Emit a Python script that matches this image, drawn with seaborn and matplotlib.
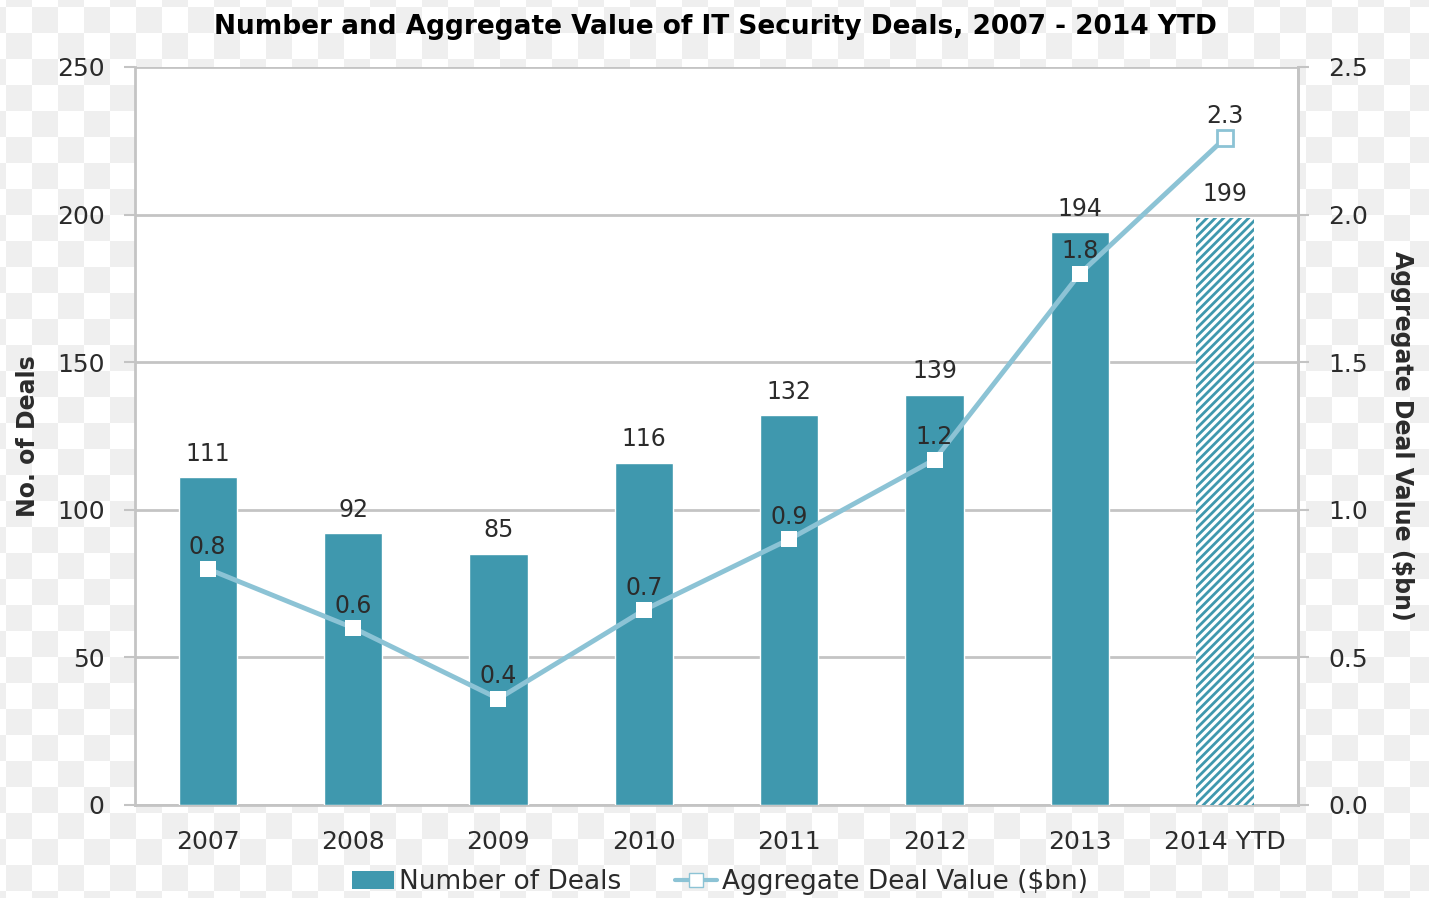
import numpy as np
import seaborn as sns
import matplotlib.pyplot as plt
from matplotlib.colors import ListedColormap
from matplotlib.lines import Line2D
from matplotlib.patches import Patch

# chart data
years = ["2007", "2008", "2009", "2010", "2011", "2012", "2013", "2014 YTD"]
num_deals = [111, 92, 85, 116, 132, 139, 194, 199]
deal_value = [0.80, 0.60, 0.36, 0.66, 0.90, 1.17, 1.80, 2.26]
value_labels = ["0.8", "0.6", "0.4", "0.7", "0.9", "1.2", "1.8", "2.3"]

bar_color = "#3f98ae"
line_color = "#8cc3d5"
grid_color = "#c4c4c4"
text_color = "#2b2b2b"

sns.set_style("white")
sns.set_context("notebook")
plt.rcParams["font.family"] = ["DejaVu Sans"]
plt.rcParams["hatch.color"] = bar_color
plt.rcParams["hatch.linewidth"] = 2.0

W, H = 1429, 898
fig = plt.figure(figsize=(W / 100, H / 100), dpi=100)

# faint checkerboard behind the chart (transparency pattern of the original)
bg = fig.add_axes([0, 0, 1, 1], zorder=-10)
cell = 26
ny, nx = H // cell + 3, W // cell + 3
checker = (np.add.outer(np.arange(ny), np.arange(nx)) % 2).astype(float)
x0, y0 = 6 - cell, 7 - cell
bg.imshow(checker, cmap=ListedColormap(["#ffffff", "#efefef"]),
          extent=(x0, x0 + nx * cell, y0 + ny * cell, y0),
          origin="upper", interpolation="nearest", aspect="auto")
bg.set_xlim(0, W)
bg.set_ylim(H, 0)
bg.axis("off")

ax = fig.add_axes([135 / W, 1 - 805 / H, (1298 - 135) / W, (805 - 67) / H])
ax.set_facecolor("white")

sns.barplot(x=years, y=num_deals, color=bar_color, width=0.4, saturation=1, ax=ax, zorder=3)
last = ax.patches[-1]
last.set_facecolor("white")
last.set_edgecolor(bar_color)
last.set_linewidth(0)
last.set_hatch("////")

for i, v in enumerate(num_deals):
    ax.text(i, v + 4, str(v), ha="center", va="bottom", fontsize=17, color=text_color, zorder=6)

ax.set_ylim(0, 250)
ax.set_xlim(-0.5, len(years) - 0.5)
ax.set_yticks(range(0, 251, 50))
ax.yaxis.grid(True, color=grid_color, linewidth=2)
ax.set_axisbelow(True)
ax.set_xlabel("")
ax.set_ylabel("No. of Deals", fontsize=17, fontweight="bold", color=text_color, labelpad=12)
ax.set_xticks(range(len(years)))
ax.set_xticklabels(years)
ax.set_xticks(np.arange(-0.5, len(years)), minor=True)
ax.tick_params(axis="x", which="major", length=0, pad=18, labelsize=18, labelcolor=text_color)
ax.tick_params(axis="x", which="minor", length=8, width=1.5, color=grid_color, direction="out")
ax.tick_params(axis="y", length=8, width=1.5, color=grid_color, direction="out",
               labelsize=18, labelcolor=text_color, pad=14)
ax.spines["top"].set_visible(False)
for s in ["left", "bottom", "right"]:
    ax.spines[s].set_color(grid_color)
    ax.spines[s].set_linewidth(2)

ax2 = ax.twinx()
x_pos = np.arange(len(years))
sns.lineplot(x=x_pos, y=deal_value, ax=ax2, color=line_color, linewidth=3.5,
             marker="s", markersize=11, markerfacecolor="white",
             markeredgecolor="white", markeredgewidth=0, zorder=5)
ax2.lines[0].set_markevery(list(range(len(years) - 1)))
ax2.plot(x_pos[-1], deal_value[-1], marker="s", markersize=12, markerfacecolor="white",
         markeredgecolor=line_color, markeredgewidth=2, linestyle="none", zorder=6)
for i, (v, lab) in enumerate(zip(deal_value, value_labels)):
    ax2.text(i, v + 0.035, lab, ha="center", va="bottom", fontsize=17, color=text_color, zorder=7)

ax2.set_ylim(0, 2.5)
ax2.set_yticks(np.arange(0, 2.51, 0.5))
ax2.set_yticklabels([f"{t:.1f}" for t in np.arange(0, 2.51, 0.5)])
ax2.set_xlim(-0.5, len(years) - 0.5)
ax2.set_ylabel("Aggregate Deal Value ($bn)", fontsize=17, fontweight="bold", color=text_color,
               rotation=270, labelpad=33)
ax2.tick_params(axis="y", length=8, width=1.5, color=grid_color, direction="out",
                labelsize=18, labelcolor=text_color, pad=14)
ax2.grid(False)
for s in ["top", "left", "bottom"]:
    ax2.spines[s].set_visible(False)
ax2.spines["right"].set_color(grid_color)
ax2.spines["right"].set_linewidth(2)

fig.suptitle("Number and Aggregate Value of IT Security Deals, 2007 - 2014 YTD",
             x=715 / W, y=1 - 27 / H, va="center", fontsize=19, fontweight="bold", color="black")

handles = [Patch(facecolor=bar_color, edgecolor="none"),
           Line2D([0], [0], color=line_color, linewidth=3, marker="s", markersize=10,
                  markerfacecolor="white", markeredgecolor=line_color)]
fig.legend(handles, ["Number of Deals", "Aggregate Deal Value ($bn)"], loc="center",
           bbox_to_anchor=(720 / W, 1 - 882 / H), ncol=2, frameon=False, fontsize=19,
           handlelength=1.6, handletextpad=0.2, columnspacing=2.0, labelcolor=text_color)

fig.savefig("out.png", dpi=100)
